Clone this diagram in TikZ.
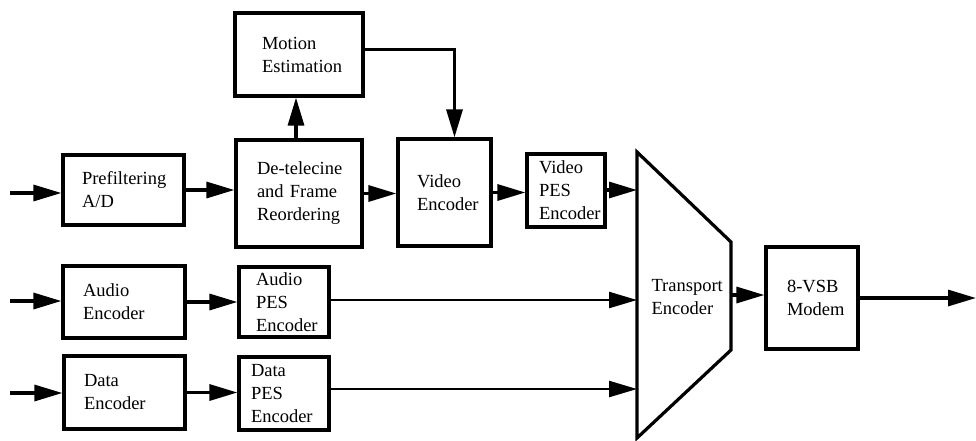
\documentclass[tikz,border=0pt]{standalone}
\usepackage{fontspec}
\setmainfont{Liberation Serif}
\usetikzlibrary{arrows.meta,calc}
\hyphenpenalty=10000
\exhyphenpenalty=10000
\begin{document}
\begin{tikzpicture}[x=1pt,y=-1pt,
  blk/.style={draw, line width=3.2pt, align=left, inner ysep=0pt, font=\fontsize{18.5}{23}\selectfont},
  lbl/.style={align=left, font=\fontsize{18.5}{23}\selectfont},
  conn/.style={line width=3.2pt, -{Triangle[length=28pt,width=16pt]}},
  thinconn/.style={line width=2.5pt, -{Triangle[length=28pt,width=16pt]}}]
\useasboundingbox (0,0) rectangle (976,440);

% boxes
\node[blk, minimum height=70pt, text width=83pt, inner xsep=19pt] (pre) at (123.5,190) {Prefiltering\\A/D};
\node[blk, minimum height=107pt, text width=84pt, inner xsep=21pt] (dt) at (299,193.5) {\mbox{De-telecine}\\\mbox{and Frame}\\Reordering};
\node[blk, minimum height=83pt, text width=74pt, inner xsep=27pt] (me) at (299,54.5) {Motion\\Estimation};
\node[blk, minimum height=107pt, text width=55pt, inner xsep=19pt] (ve) at (444.5,192.5) {Video\\Encoder};
\node[blk, minimum height=73pt, text width=54pt, inner xsep=12pt] (vpes) at (566,190.5) {Video\\PES\\Encoder};
\node[blk, minimum height=72pt, text width=82pt, inner xsep=20pt] (ae) at (124,302) {Audio\\Encoder};
\node[blk, minimum height=70pt, text width=56pt, inner xsep=17pt] (apes) at (284,302) {Audio\\PES\\Encoder};
\node[blk, minimum height=73pt, text width=81pt, inner xsep=20pt] (de) at (124.5,392.5) {Data\\Encoder};
\node[blk, minimum height=73pt, text width=66pt, inner xsep=12pt] (dpes) at (284,393.5) {Data\\PES\\Encoder};
\node[blk, minimum height=102pt, text width=50pt, inner xsep=21pt] (vsb) at (812,298) {\mbox{8-VSB}\\Modem};

% transport encoder (trapezoid)
\coordinate (t1) at (637,152);
\coordinate (t2) at (731,242);
\coordinate (t3) at (731,350);
\coordinate (t4) at (637,438);
\draw[line width=3.2pt, line join=miter] (t1) -- (t2) -- (t3) -- (t4) -- cycle;
\node[lbl, anchor=west] (tenc) at (648,297) {Transport\\Encoder};

\coordinate (tin1) at (637,190);
\coordinate (tin2) at (637,300);
\coordinate (tin3) at (637,389);
\coordinate (tout) at (731,295);

% free ends
\coordinate (i1) at (10,193);
\coordinate (i2) at (10,301);
\coordinate (i3) at (10,393);
\coordinate (o) at (976,298);

% connectors
\draw[conn] (i1) -- (i1 -| pre.west);
\draw[conn] (pre.east) -- (pre.east -| dt.west);
\draw[conn] ([xshift=-3pt]dt.north) -- ([xshift=-3pt]dt.north |- me.south);
\draw[conn] ([yshift=5pt]me.east) -| ([xshift=10pt]ve.north);
\draw[conn] (dt.east) -- (dt.east -| ve.west);
\draw[conn] (ve.east) -- (ve.east -| vpes.west);
\draw[conn] (vpes.east |- tin1) -- (tin1);

\draw[conn] (i2) -- (i2 -| ae.west);
\draw[conn] (ae.east) -- (ae.east -| apes.west);
\draw[thinconn] (apes.east |- tin2) -- (tin2);

\draw[conn] (i3) -- (i3 -| de.west);
\draw[conn] (de.east) -- (de.east -| dpes.west);
\draw[thinconn] (dpes.east |- tin3) -- (tin3);

\draw[conn] (tout) -- (tout -| vsb.west);
\draw[conn] (vsb.east |- o) -- (o);
\end{tikzpicture}
\end{document}
